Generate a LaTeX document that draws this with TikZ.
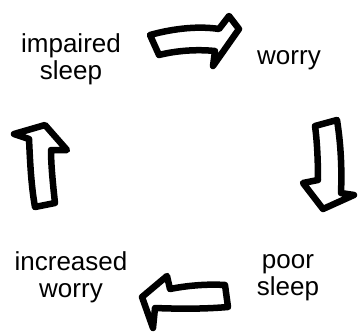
\documentclass[tikz,border=0pt]{standalone}
\usepackage{fontspec}
\setmainfont{Liberation Sans}
\tikzset{
  lbl/.style={font=\fontsize{26bp}{27bp}\selectfont, align=center, inner sep=0pt, text=black},
  blockarrow/.style={draw=black, line width=6.5bp, line join=round, line cap=round, fill=white}
}
\begin{document}
\begin{tikzpicture}[x=1bp, y=-1bp]
\useasboundingbox (0,0) rectangle (359,336);
% labels
\node[lbl] (impaired) at (71,61) {\strut impaired\\\strut sleep};
\node[lbl] (worry) at (289,59.5) {\strut worry};
\node[lbl] (poor) at (288,277) {\strut poor\\\strut sleep};
\node[lbl] (increased) at (71,279) {\strut increased\\\strut worry};
% top arrow (pointing right)
\draw[blockarrow] (150,35) .. controls (175,28) and (200,26) .. (219,29)
  -- (229,16) -- (239,29) -- (213,66) -- (215,51)
  .. controls (195,49) and (175,51) .. (159,55) -- cycle;
% right arrow (pointing down)
\draw[blockarrow] (315,126) -- (337,120)
  .. controls (341,145) and (342,170) .. (341,193)
  -- (354,195) -- (323,209) -- (303,183) -- (318,180)
  .. controls (318,160) and (317,140) .. cycle;
% bottom arrow (pointing left)
\draw[blockarrow] (225,285) -- (228,307)
  .. controls (205,309) and (180,309) .. (155,308)
  -- (153,328) -- (142,297) -- (167,276) -- (170,289)
  .. controls (190,285) and (210,284) .. cycle;
% left arrow (pointing up)
\draw[blockarrow] (35,207) -- (55,203)
  .. controls (53,185) and (51,165) .. (51,150)
  -- (67,150) -- (45,125) -- (14,134) -- (29,139)
  .. controls (30,160) and (31,185) .. cycle;
\end{tikzpicture}
\end{document}
